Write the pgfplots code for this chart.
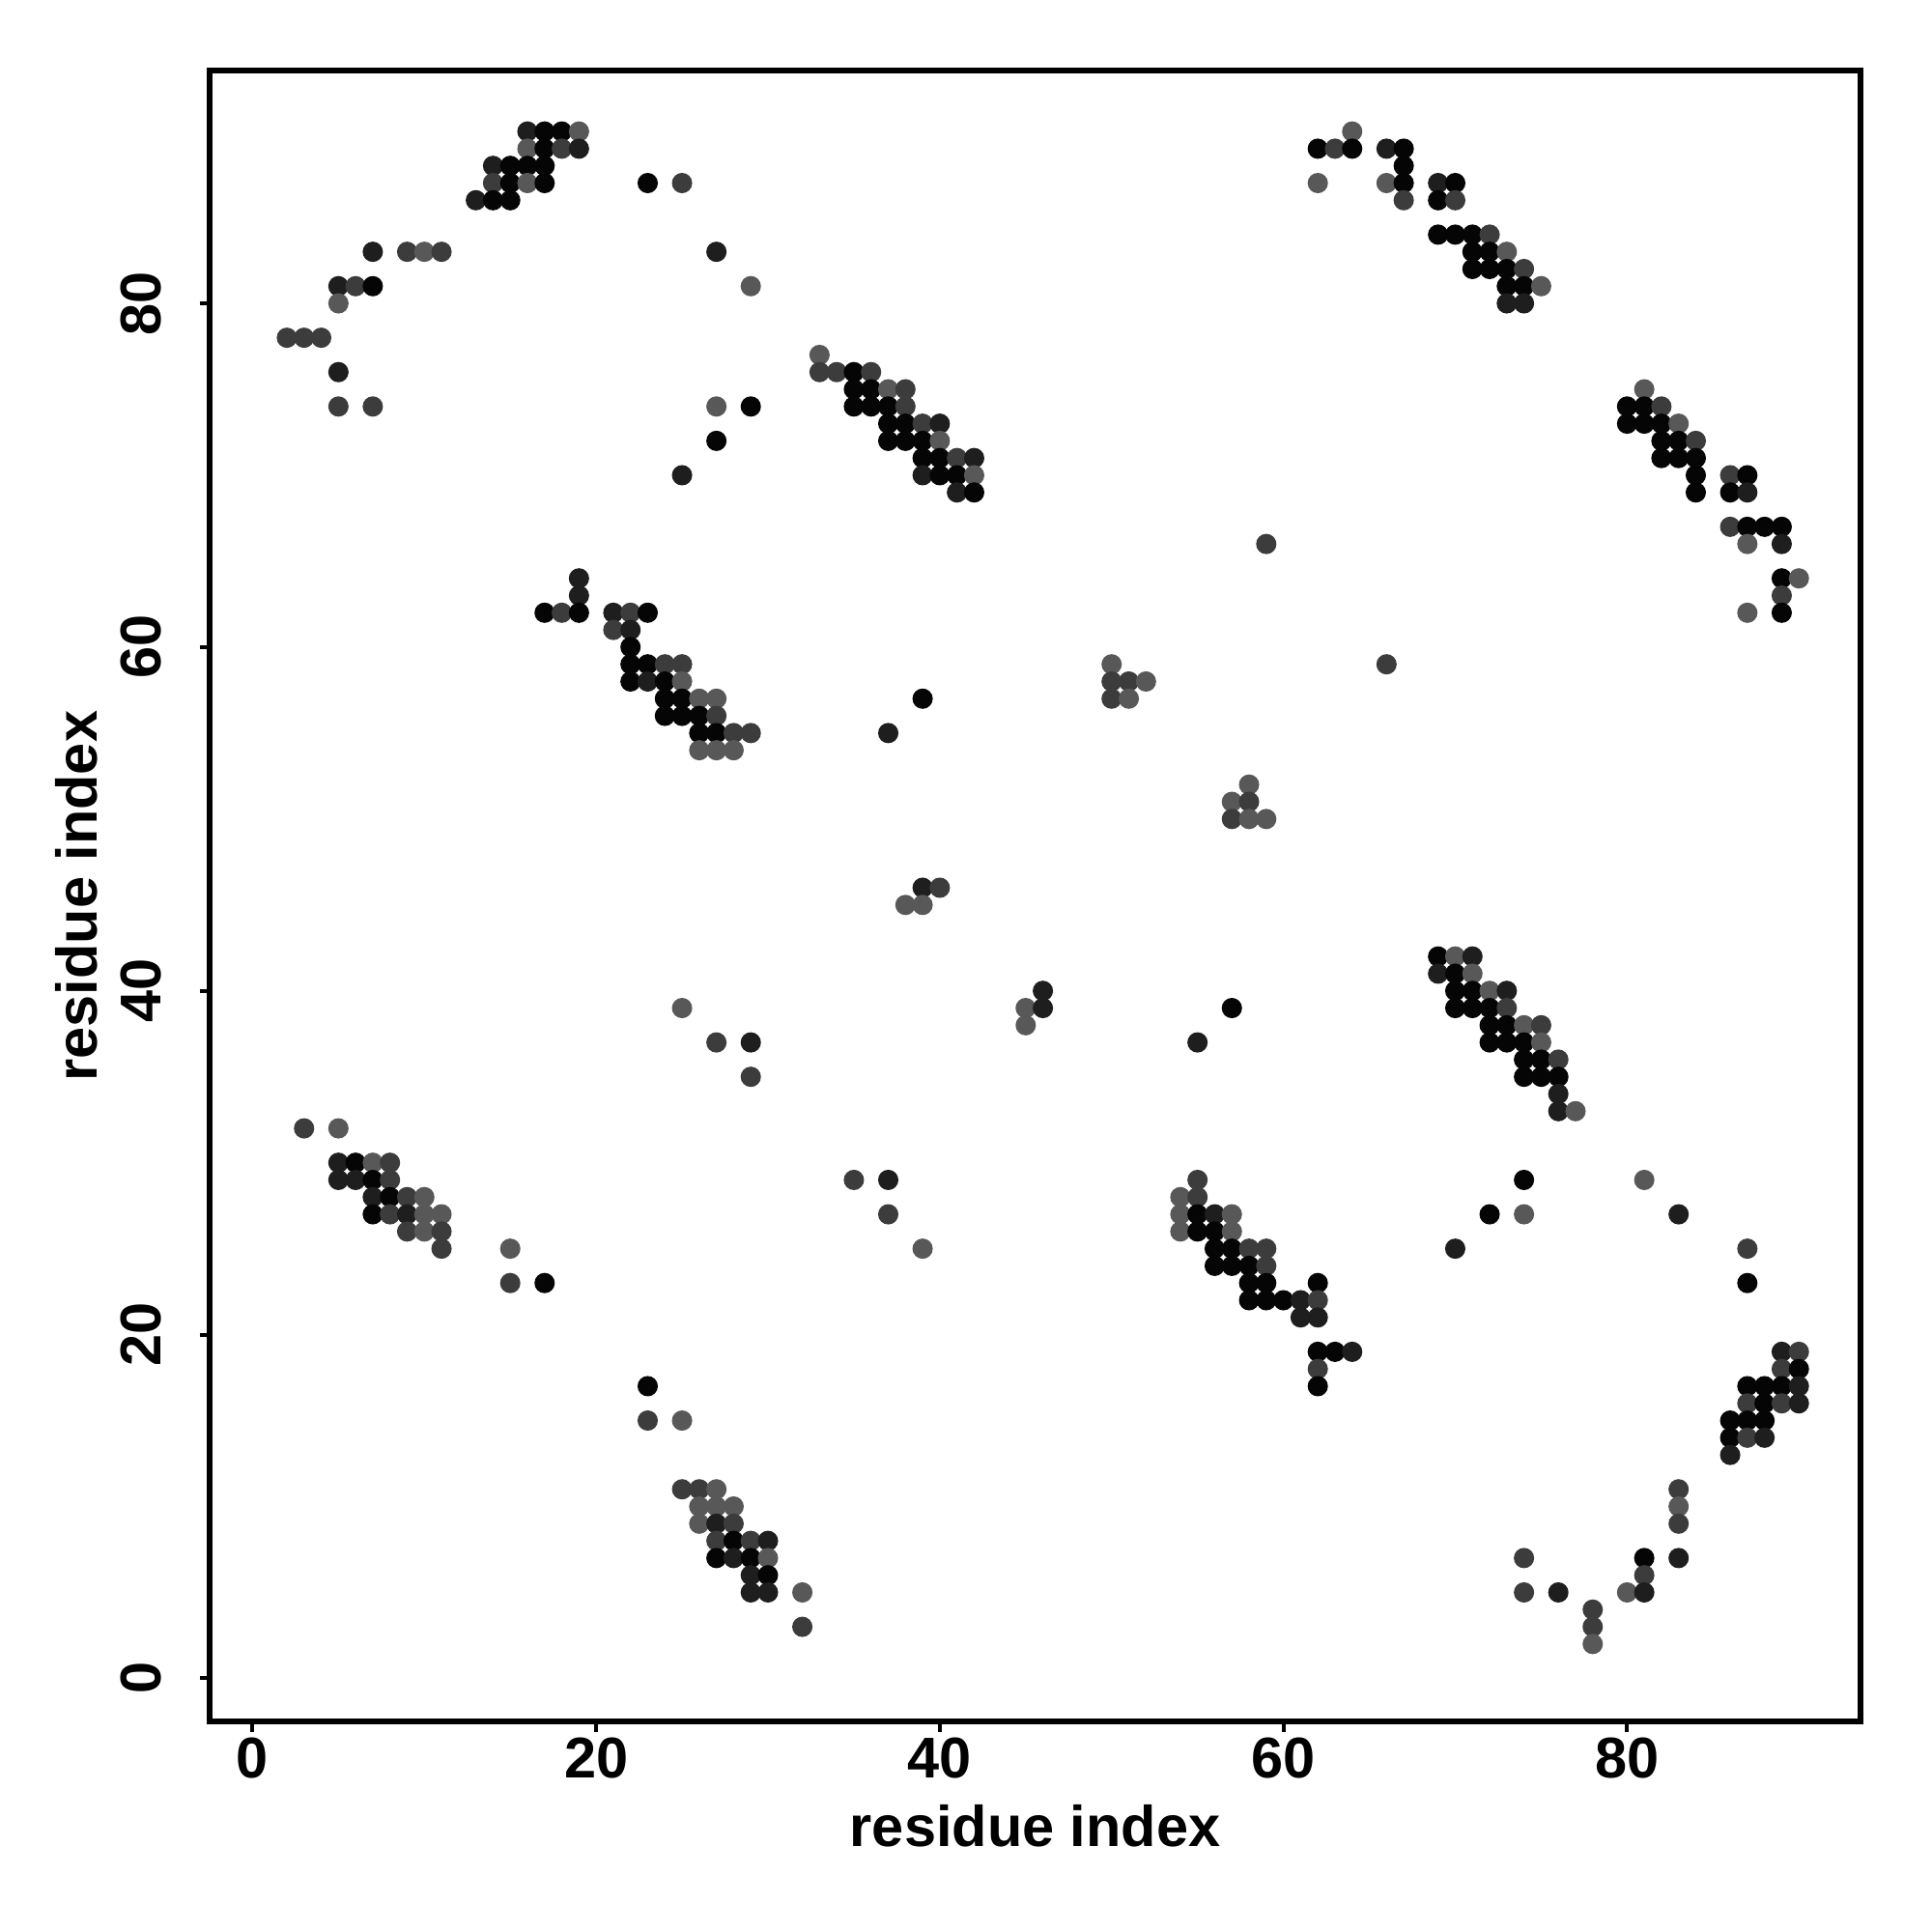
\documentclass[border=0pt]{standalone}
\usepackage{pgfplots}
\usepackage{pgfplotstable}
\pgfplotsset{compat=1.18}
\usepackage{fontspec}
\setmainfont{Liberation Sans}

\pgfplotstableread{
x y c
16 90 1
17 90 0
18 90 0
19 90 3
64 90 3
16 89 3
17 89 0
18 89 2
19 89 1
62 89 0
63 89 2
64 89 0
66 89 1
67 89 0
14 88 1
15 88 0
16 88 0
17 88 0
67 88 0
14 87 2
15 87 0
16 87 3
17 87 0
23 87 0
25 87 2
62 87 3
66 87 3
67 87 0
69 87 1
70 87 0
13 86 1
14 86 0
15 86 0
67 86 2
69 86 0
70 86 2
69 84 0
70 84 0
71 84 0
72 84 2
7 83 1
9 83 2
10 83 3
11 83 2
27 83 1
71 83 0
72 83 0
73 83 3
71 82 0
72 82 0
73 82 0
74 82 2
5 81 1
6 81 2
7 81 0
29 81 3
73 81 0
74 81 0
75 81 3
5 80 3
73 80 1
74 80 1
2 78 2
3 78 2
4 78 2
33 77 3
5 76 1
33 76 2
34 76 2
35 76 0
36 76 2
35 75 0
36 75 0
37 75 3
38 75 2
81 75 3
5 74 2
7 74 2
27 74 3
29 74 0
35 74 0
36 74 0
37 74 0
38 74 2
80 74 0
81 74 0
82 74 2
37 73 0
38 73 0
39 73 2
40 73 1
80 73 0
81 73 0
82 73 0
83 73 3
27 72 0
37 72 0
38 72 0
39 72 0
40 72 3
82 72 0
83 72 0
84 72 2
39 71 0
40 71 0
41 71 2
42 71 1
82 71 0
83 71 0
84 71 0
25 70 1
39 70 1
40 70 0
41 70 0
42 70 3
84 70 0
86 70 2
87 70 0
41 69 1
42 69 0
84 69 0
86 69 0
87 69 1
86 67 2
87 67 0
88 67 0
89 67 0
59 66 2
87 66 3
89 66 1
19 64 1
89 64 0
90 64 3
19 63 1
89 63 2
17 62 0
18 62 2
19 62 0
21 62 1
22 62 2
23 62 0
87 62 3
89 62 0
21 61 2
22 61 1
22 60 0
22 59 0
23 59 0
24 59 2
25 59 2
50 59 3
66 59 2
22 58 0
23 58 1
24 58 0
25 58 3
50 58 2
51 58 2
52 58 3
24 57 0
25 57 0
26 57 3
27 57 3
39 57 0
50 57 2
51 57 3
24 56 0
25 56 0
26 56 0
27 56 2
26 55 0
27 55 0
28 55 2
29 55 2
37 55 1
26 54 3
27 54 3
28 54 3
58 52 3
57 51 3
58 51 2
57 50 2
58 50 3
59 50 3
39 46 1
40 46 2
38 45 3
39 45 3
69 42 0
70 42 3
71 42 1
69 41 1
70 41 0
71 41 3
46 40 1
70 40 0
71 40 0
72 40 3
73 40 1
25 39 3
45 39 3
46 39 1
57 39 0
70 39 0
71 39 0
72 39 0
73 39 2
45 38 3
72 38 0
73 38 0
74 38 3
75 38 2
27 37 2
29 37 1
55 37 1
72 37 0
73 37 0
74 37 0
75 37 3
74 36 0
75 36 0
76 36 2
29 35 2
74 35 0
75 35 0
76 35 0
76 34 1
76 33 1
77 33 3
3 32 2
5 32 3
5 30 1
6 30 0
7 30 3
8 30 2
5 29 1
6 29 1
7 29 0
8 29 2
35 29 2
37 29 1
55 29 2
74 29 0
81 29 3
7 28 1
8 28 0
9 28 2
10 28 3
54 28 3
55 28 2
7 27 0
8 27 2
9 27 1
10 27 3
11 27 3
37 27 2
54 27 3
55 27 0
56 27 1
57 27 3
72 27 0
74 27 3
83 27 1
9 26 2
10 26 3
11 26 2
54 26 3
55 26 0
56 26 0
57 26 3
11 25 2
15 25 3
39 25 3
56 25 0
57 25 0
58 25 2
59 25 2
70 25 1
87 25 2
56 24 0
57 24 0
58 24 0
59 24 2
15 23 2
17 23 0
58 23 0
59 23 0
62 23 0
87 23 0
58 22 0
59 22 0
60 22 0
61 22 1
62 22 2
61 21 1
62 21 1
62 19 0
63 19 0
64 19 1
89 19 1
90 19 2
62 18 2
89 18 2
90 18 0
23 17 0
62 17 0
87 17 0
88 17 0
89 17 0
90 17 1
87 16 2
88 16 0
89 16 2
90 16 1
23 15 2
25 15 3
86 15 0
87 15 0
88 15 0
86 14 0
87 14 2
88 14 1
86 13 1
25 11 2
26 11 2
27 11 3
83 11 2
26 10 3
27 10 3
28 10 3
83 10 3
26 9 3
27 9 1
28 9 2
83 9 2
27 8 2
28 8 0
29 8 2
30 8 1
27 7 0
28 7 1
29 7 0
30 7 3
74 7 2
81 7 0
83 7 1
29 6 1
30 6 0
81 6 2
29 5 1
30 5 1
32 5 3
74 5 2
76 5 1
80 5 3
81 5 1
78 4 2
32 3 2
78 3 2
78 2 3
}\contacts

\begin{document}
\begin{tikzpicture}
\begin{axis}[
  scale only axis,
  width=431pt, height=431pt,
  xmin=-2.5, xmax=93.6, ymin=-2.52, ymax=93.55,
  axis line style={line width=1.4pt, black},
  xtick={0,20,40,60,80}, ytick={0,20,40,60,80},
  tick pos=left, tick align=outside,
  major tick length=2.6pt,
  tick style={line width=1pt, black},
  /pgf/number format/assume math mode=true,
  ticklabel style={font=\fontsize{15}{18}\selectfont\bfseries, inner sep=0pt},
  xticklabel shift=1.3pt,
  yticklabel shift=9.8pt,
  yticklabel style={rotate=90, anchor=south},
  xticklabel style={anchor=north},
  xlabel={residue index}, ylabel={residue index},
  label style={font=\fontsize{15}{18}\selectfont\bfseries, inner sep=0pt},
  xlabel style={at={(axis description cs:0.5,-0.0634)}, anchor=center},
  ylabel style={at={(axis description cs:-0.0807,0.5)}, anchor=center, rotate=0},
  colormap={dots}{rgb255(0cm)=(5,5,5); rgb255(1cm)=(30,30,30); rgb255(2cm)=(60,60,60); rgb255(3cm)=(88,88,88)},
  point meta min=0, point meta max=3,
]
\addplot[scatter, only marks, mark=*, mark size=2.45pt,
  scatter/use mapped color={draw=mapped color, fill=mapped color},
  point meta=\thisrow{c}] table[x=x, y=y] {\contacts};
\end{axis}
\path ([shift={(-54.7pt,-54.9pt)}]current axis.south west) rectangle ([shift={(18.4pt,18.4pt)}]current axis.north east);
\end{tikzpicture}
\end{document}
